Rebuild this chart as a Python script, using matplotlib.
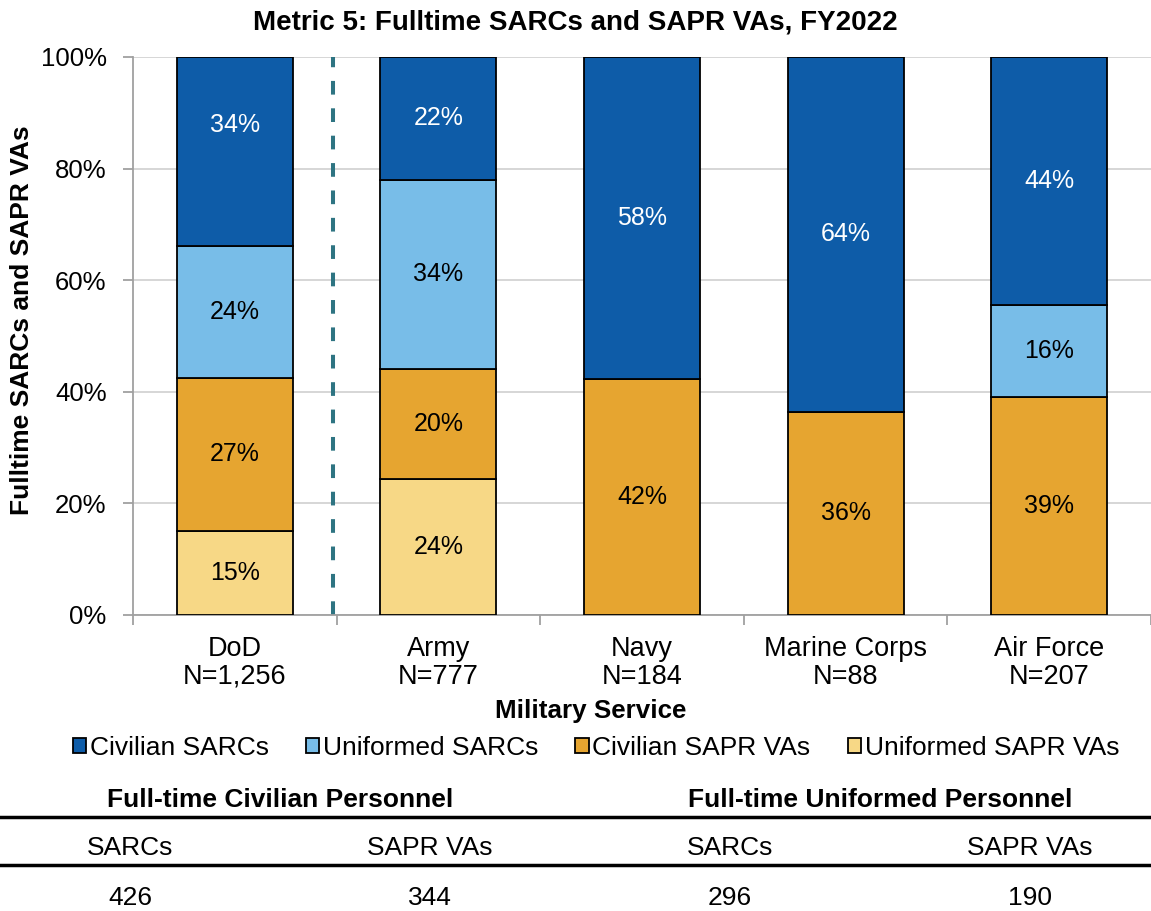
import numpy as np
import matplotlib
matplotlib.use("Agg")
import matplotlib.pyplot as plt

plt.rcParams['font.family'] = ['Liberation Sans', 'DejaVu Sans']

# dati (percentuali)
servizi = ['DoD\nN=1,256', 'Army\nN=777', 'Navy\nN=184', 'Marine Corps\nN=88', 'Air Force\nN=207']
uniformed_vas = [15.1, 24.4, 0, 0, 0]
civilian_vas = [27.4, 19.7, 42.3, 36.4, 39.1]
uniformed_sarcs = [23.6, 33.9, 0, 0, 16.5]
civilian_sarcs = [33.9, 22.0, 57.7, 63.6, 44.4]
etichette_uvas = ['15%', '24%', '', '', '']
etichette_cvas = ['27%', '20%', '42%', '36%', '39%']
etichette_usarcs = ['24%', '34%', '', '', '16%']
etichette_csarcs = ['34%', '22%', '58%', '64%', '44%']

# tabella in basso
gruppi = ['Full-time Civilian Personnel', 'Full-time Uniformed Personnel']
colonne = ['SARCs', 'SAPR VAs', 'SARCs', 'SAPR VAs']
conteggi = [426, 344, 296, 190]

W, H = 1151, 911
fig = plt.figure(figsize=(W / 100, H / 100), dpi=100)
ax = fig.add_axes([133 / W, (H - 615) / H, (W - 133) / W, 558 / H])

x = np.arange(len(servizi))
larghezza = 0.57
serie = [
    (uniformed_vas, etichette_uvas, '#f7d886', 'black', 'Uniformed SAPR VAs'),
    (civilian_vas, etichette_cvas, '#e6a530', 'black', 'Civilian SAPR VAs'),
    (uniformed_sarcs, etichette_usarcs, '#78bde8', 'black', 'Uniformed SARCs'),
    (civilian_sarcs, etichette_csarcs, '#0e5ca8', 'white', 'Civilian SARCs'),
]
base = np.zeros(len(servizi))
handles = {}
for valori, etichette, colore, col_testo, nome in serie:
    valori = np.array(valori, dtype=float)
    bars = ax.bar(x, valori, larghezza, bottom=base, color=colore,
                  edgecolor='black', linewidth=1.3, zorder=3, label=nome)
    handles[nome] = bars
    for xi, b, v, t in zip(x, base, valori, etichette):
        if t:
            y_txt = b + v / 2
            # nell'originale l'etichetta DoD in alto e' spostata verso l'alto
            if nome == 'Civilian SARCs' and xi == 0:
                y_txt += 4.7
            ax.text(xi, y_txt, t, ha='center', va='center',
                    fontsize=18, color=col_testo, zorder=4)
    base += valori

ax.set_xlim(-0.5, len(servizi) - 0.5)
ax.set_ylim(0, 100)
ax.set_yticks(np.arange(0, 101, 20))
ax.set_yticklabels([f'{v}%' for v in range(0, 101, 20)], fontsize=18.5)
ax.set_xticks(x)
ax.set_xticklabels(servizi, fontsize=19.5, linespacing=1.1)
ax.set_xticks(np.arange(-0.5, len(servizi), 1), minor=True)
ax.tick_params(axis='x', which='major', length=0, pad=15)
ax.tick_params(axis='x', which='minor', length=7, color='#a0a0a0', width=1.3)
ax.tick_params(axis='y', length=7, color='#a0a0a0', width=1.3, pad=12)
ax.grid(axis='y', color='#d0d0d0', linewidth=1.2, zorder=0)
for s in ['top', 'right']:
    ax.spines[s].set_visible(False)
for s in ['left', 'bottom']:
    ax.spines[s].set_color('#a0a0a0')
    ax.spines[s].set_linewidth(1.3)

# linea tratteggiata tra DoD e servizi
ax.axvline(0.48, color='#2e7482', linestyle=(0, (3.4, 3.4)), linewidth=2.9, zorder=2)

fig.text(575 / W, 1 - 22 / H, 'Metric 5: Fulltime SARCs and SAPR VAs, FY2022',
         ha='center', va='center', fontsize=20, fontweight='bold')
fig.text(22 / W, 1 - 320 / H, 'Fulltime SARCs and SAPR VAs', rotation=90,
         ha='center', va='center', fontsize=19, fontweight='bold')
fig.text(591 / W, 1 - 711 / H, 'Military Service', ha='center', va='center',
         fontsize=18.7, fontweight='bold')

ordine = ['Civilian SARCs', 'Uniformed SARCs', 'Civilian SAPR VAs', 'Uniformed SAPR VAs']
fig.legend([handles[n] for n in ordine], ordine, loc='center',
           bbox_to_anchor=(596 / W, 1 - 748 / H), ncol=4, frameon=False,
           fontsize=19, handlelength=0.5, handleheight=0.5,
           handletextpad=0.15, columnspacing=1.4)

# tabella
fig.text(280 / W, 1 - 800 / H, gruppi[0], ha='center', va='center',
         fontsize=19, fontweight='bold')
fig.text(880 / W, 1 - 800 / H, gruppi[1], ha='center', va='center',
         fontsize=19, fontweight='bold')
pos_col = [130, 430, 730, 1030]
for px, c, n in zip(pos_col, colonne, conteggi):
    fig.text(px / W, 1 - 848 / H, c, ha='center', va='center', fontsize=19)
    fig.text(px / W, 1 - 898 / H, str(n), ha='center', va='center', fontsize=19)
for yy in [817, 865]:
    fig.add_artist(plt.Line2D([0, 1], [1 - yy / H, 1 - yy / H], color='black',
                              linewidth=2.5, transform=fig.transFigure))

fig.savefig('out.png', dpi=100)
